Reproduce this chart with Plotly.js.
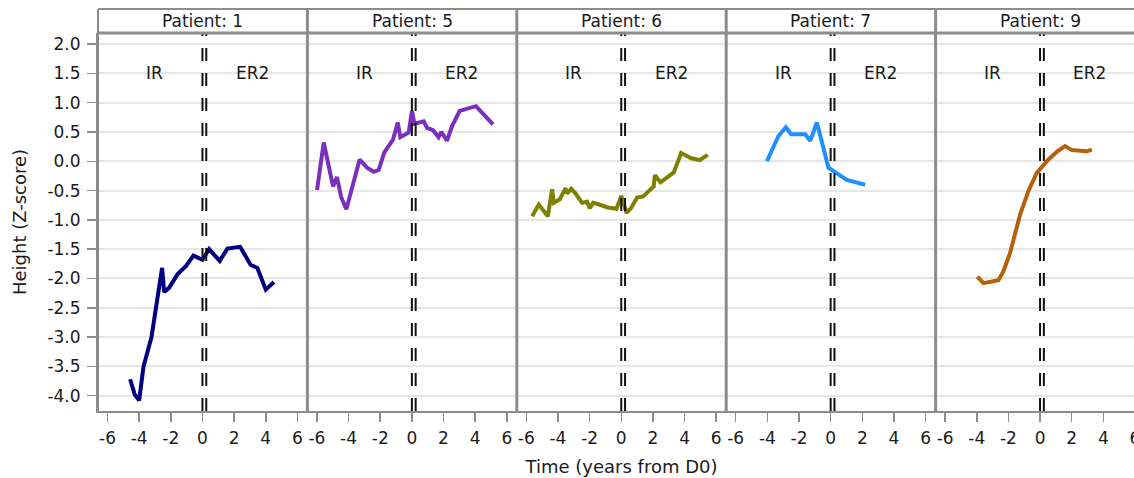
<!DOCTYPE html>
<html>
<head>
<meta charset="utf-8">
<script src="https://cdn.plot.ly/plotly-3.0.1.min.js"></script>
<style>
  html, body { margin: 0; padding: 0; overflow: hidden; background: #fff; }
  #chart { width: 1146px; height: 478px; }
</style>
</head>
<body>
<div id="chart"></div>
<script>
// ---- data ----
const patients = ["Patient: 1", "Patient: 5", "Patient: 6", "Patient: 7", "Patient: 9"];
const colors = ["#000080", "#7B2FBE", "#808000", "#1E90FF", "#B5600B"];

const p1x = [-4.57, -4.28, -4.0, -3.73, -3.22, -2.89, -2.55, -2.42, -2.11, -1.58, -1.05, -0.57, 0.0, 0.42, 1.09, 1.58, 2.38, 3.05, 3.47, 4.0, 4.52];
const p1y = [-3.72, -3.98, -4.08, -3.51, -3.0, -2.42, -1.82, -2.23, -2.16, -1.93, -1.79, -1.61, -1.68, -1.5, -1.70, -1.49, -1.46, -1.77, -1.82, -2.19, -2.06];

const p5x = [-5.99, -5.57, -4.98, -4.73, -4.47, -4.14, -3.30, -2.83, -2.41, -2.10, -1.74, -1.19, -0.89, -0.73, -0.2, 0.01, 0.16, 0.75, 0.96, 1.34, 1.69, 1.86, 2.22, 2.54, 3.02, 4.05, 5.13];
const p5y = [-0.49, 0.32, -0.43, -0.27, -0.61, -0.82, 0.03, -0.11, -0.18, -0.15, 0.15, 0.37, 0.66, 0.41, 0.49, 0.86, 0.64, 0.68, 0.57, 0.53, 0.41, 0.50, 0.35, 0.60, 0.86, 0.94, 0.63];

const p6x = [-5.63, -5.21, -4.64, -4.37, -4.26, -3.88, -3.52, -3.42, -3.16, -2.89, -2.47, -2.16, -1.99, -1.78, -1.48, -0.85, -0.3, 0.0, 0.33, 0.64, 1.0, 1.38, 1.74, 2.05, 2.12, 2.48, 3.32, 3.78, 4.42, 4.96, 5.46];
const p6y = [-0.94, -0.74, -0.94, -0.48, -0.71, -0.65, -0.46, -0.55, -0.47, -0.55, -0.71, -0.69, -0.80, -0.71, -0.73, -0.79, -0.81, -0.59, -0.88, -0.79, -0.62, -0.60, -0.51, -0.43, -0.24, -0.36, -0.19, 0.14, 0.05, 0.02, 0.11];

const p7x = [-4.03, -3.61, -3.30, -2.83, -2.50, -1.61, -1.29, -0.87, -0.14, 1.02, 2.18];
const p7y = [0.0, 0.26, 0.43, 0.58, 0.46, 0.46, 0.35, 0.66, -0.11, -0.32, -0.40];

const p9x = [-3.96, -3.58, -2.63, -2.32, -1.90, -1.58, -1.26, -0.74, -0.21, 0.53, 1.09, 1.58, 2.0, 2.95, 3.27];
const p9y = [-1.97, -2.08, -2.03, -1.88, -1.57, -1.23, -0.91, -0.51, -0.20, 0.03, 0.17, 0.26, 0.19, 0.17, 0.20];

const seriesX = [p1x, p5x, p6x, p7x, p9x];
const seriesY = [p1y, p5y, p6y, p7y, p9y];

const phaseLines = [0, 0.24];
const phaseLabels = ["IR", "ER2"];
const phaseLabelX = [-3, 3.15];
const phaseLabelY = 1.5;

const xTickVals = [-6, -4, -2, 0, 2, 4, 6];
const xTickText = ["-6", "-4", "-2", "0", "2", "4", "6"];
const yTickVals = [2.0, 1.5, 1.0, 0.5, 0.0, -0.5, -1.0, -1.5, -2.0, -2.5, -3.0, -3.5, -4.0];
const yTickText = ["2.0", "1.5", "1.0", "0.5", "0.0", "-0.5", "-1.0", "-1.5", "-2.0", "-2.5", "-3.0", "-3.5", "-4.0"];

// ---- build ----
const FONT = "DejaVu Sans, Verdana, sans-serif";
const GREY = "#8c8c8c";
const TXT = "#1a1a1a";
const FS = 17;
const TFS = 18;
const stripTop = 1.0635;
const n = patients.length;

const traces = [];
const shapes = [];
const annotations = [];
const layout = {
  width: 1146, height: 478, autosize: false,
  margin: { l: 98, r: 1, t: 33, b: 67, pad: 0 },
  paper_bgcolor: "#ffffff", plot_bgcolor: "#ffffff",
  showlegend: false,
  font: { family: FONT, size: FS, color: TXT },
  yaxis: {
    range: [-4.261, 2.188],
    tickmode: "array", tickvals: yTickVals, ticktext: yTickText,
    ticks: "outside", ticklen: 9, tickwidth: 1.5, tickcolor: GREY,
    ticklabelstandoff: 3,
    showline: true, linecolor: GREY, linewidth: 2,
    showgrid: true, gridcolor: "#e6e6e6", gridwidth: 2,
    zeroline: false,
    tickfont: { family: FONT, size: FS, color: TXT },
    title: { text: "Height (Z-score)", font: { family: FONT, size: TFS, color: TXT }, standoff: 16 }
  }
};

for (let i = 0; i < n; i++) {
  const ax = i === 0 ? "x" : "x" + (i + 1);
  const axKey = i === 0 ? "xaxis" : "xaxis" + (i + 1);
  layout[axKey] = {
    domain: [i / n, (i + 1) / n],
    range: [-6.6, 6.63],
    anchor: "y",
    tickmode: "array", tickvals: xTickVals, ticktext: xTickText,
    ticks: "outside", ticklen: 9, tickwidth: 1.5, tickcolor: GREY,
    ticklabelstandoff: 2,
    showline: true, linecolor: GREY, linewidth: 2,
    showgrid: false, zeroline: false,
    tickfont: { family: FONT, size: FS, color: TXT }
  };
  if (i === 2) {
    layout[axKey].title = { text: "Time (years from D0)", font: { family: FONT, size: TFS, color: TXT }, standoff: 13 };
  }
  traces.push({
    type: "scatter", mode: "lines",
    x: seriesX[i], y: seriesY[i],
    xaxis: ax, yaxis: "y",
    line: { color: colors[i], width: 4, shape: "linear" },
    hoverinfo: "skip"
  });
  phaseLines.forEach(v => {
    shapes.push({
      type: "line", xref: ax, yref: "paper",
      x0: v, x1: v, y0: 0, y1: 1,
      line: { color: "#111111", width: 2, dash: "13px,12px" },
      layer: "above"
    });
  });
  phaseLabels.forEach((t, k) => {
    annotations.push({
      xref: ax, yref: "y", x: phaseLabelX[k], y: phaseLabelY,
      text: t, showarrow: false,
      font: { family: FONT, size: FS, color: TXT },
      xanchor: "center", yanchor: "middle"
    });
  });
  annotations.push({
    xref: "paper", yref: "paper",
    x: (i + 0.5) / n, y: (1 + stripTop) / 2,
    text: patients[i], showarrow: false,
    font: { family: FONT, size: FS, color: TXT },
    xanchor: "center", yanchor: "middle"
  });
}

shapes.push({ type: "line", xref: "paper", yref: "paper", x0: 0, x1: 1, y0: stripTop, y1: stripTop, line: { color: GREY, width: 2 }, layer: "above" });
shapes.push({ type: "line", xref: "paper", yref: "paper", x0: 0, x1: 1, y0: 1, y1: 1, line: { color: GREY, width: 3 }, layer: "above" });
for (let i = 0; i <= n; i++) {
  shapes.push({ type: "line", xref: "paper", yref: "paper", x0: i / n, x1: i / n, y0: 0, y1: stripTop, line: { color: GREY, width: i === 0 ? 2 : 3 }, layer: "above" });
}

layout.shapes = shapes;
layout.annotations = annotations;

Plotly.newPlot("chart", traces, layout, { displayModeBar: false, staticPlot: true });
</script>
</body>
</html>
